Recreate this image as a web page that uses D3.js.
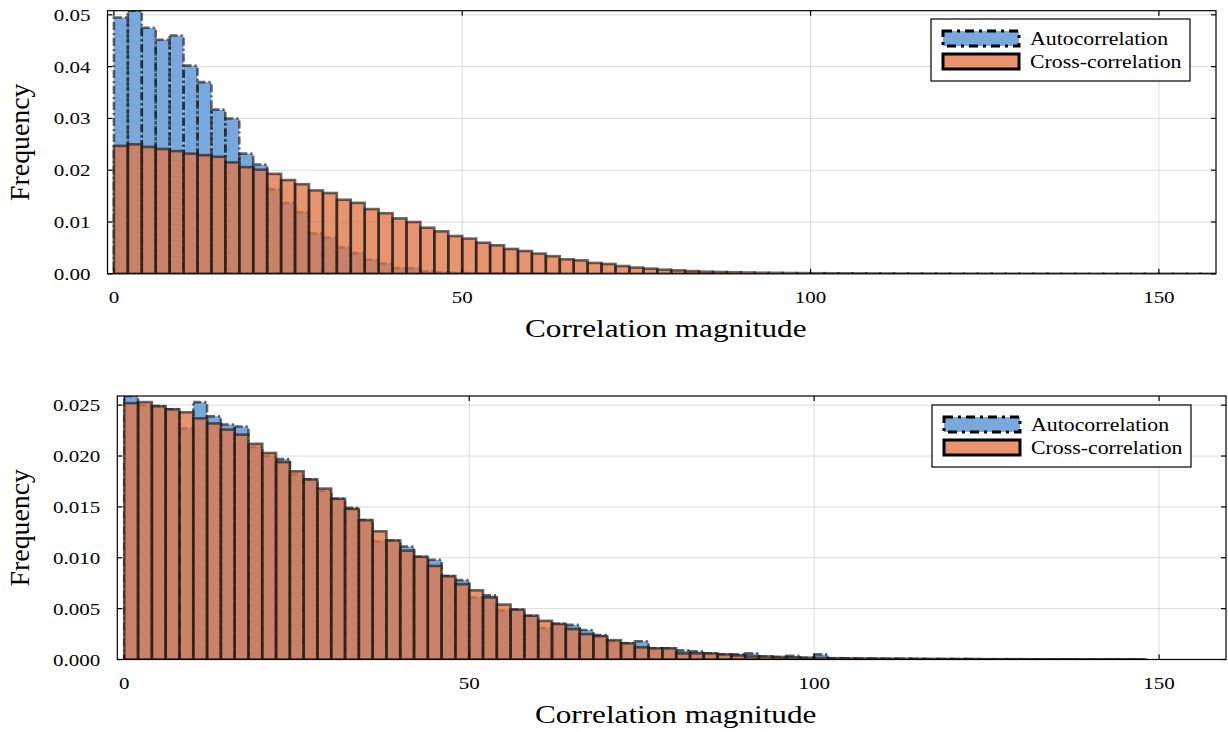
<!DOCTYPE html>
<html>
<head>
<meta charset="utf-8">
<script src="https://cdn.jsdelivr.net/npm/d3@7"></script>
<style>
  body { margin: 0; background: #fff; }
  svg { display: block; }
  text { font-family: "Liberation Serif", "DejaVu Serif", serif; fill: #000; }
</style>
</head>
<body>
<svg id="chart" width="1228" height="732"></svg>
<script>
// histogram bins are 2 wide, starting at 0
var binWidth = 2;

// top panel
var autoTop = [0.0495, 0.0508, 0.0475, 0.0452, 0.0460, 0.0402, 0.0370, 0.0317, 0.0300, 0.0232,
  0.0211, 0.0163, 0.0137, 0.0119, 0.0078, 0.0070, 0.0051, 0.0040, 0.0027, 0.0020,
  0.0011, 0.0011, 0.0005, 0.0003, 0.0002, 0.00015, 0.0001, 0.00008, 0.00005, 0.00004,
  0.00003, 0.00002];
var crossTop = [0.0247, 0.0250, 0.0245, 0.0241, 0.0237, 0.0232, 0.0229, 0.0226, 0.0215, 0.0206,
  0.0201, 0.0193, 0.0181, 0.0173, 0.0161, 0.0156, 0.0143, 0.0137, 0.0125, 0.0117,
  0.0107, 0.0100, 0.0089, 0.0082, 0.0073, 0.0068, 0.0060, 0.0055, 0.0048, 0.0044,
  0.0039, 0.0034, 0.0028, 0.0026, 0.0021, 0.0019, 0.0015, 0.0012, 0.0010, 0.0008,
  0.00066, 0.00052, 0.0004, 0.00035, 0.0003, 0.00025, 0.0002, 0.00018, 0.00015, 0.00013,
  0.00011, 0.0001, 0.00009, 0.00008, 0.00007, 0.00006, 0.00005, 0.00005, 0.00004, 0.00004,
  0.00003, 0.00003, 0.00003, 0.00002, 0.00002, 0.00002, 0.00002, 0.00002, 0.00001, 0.00001,
  0.00001, 0.00001, 0.00001, 0.00001, 0.00001, 0.00001, 0.00001, 0.00001, 0.00001];

// bottom panel
var autoBottom = [0.0259, 0.0250, 0.0249, 0.0246, 0.0227, 0.0253, 0.0239, 0.0231, 0.0229, 0.0209,
  0.0200, 0.0197, 0.0182, 0.0177, 0.0166, 0.0158, 0.0149, 0.0137, 0.0116, 0.0117,
  0.0111, 0.0101, 0.0098, 0.0082, 0.0078, 0.0061, 0.0063, 0.0048, 0.0049, 0.0043,
  0.0031, 0.0035, 0.0034, 0.0029, 0.0024, 0.0018, 0.0016, 0.0018, 0.0011, 0.0011,
  0.0009, 0.0008, 0.0006, 0.0005, 0.0005, 0.0006, 0.0003, 0.00025, 0.00036, 0.00017,
  0.0005, 0.00013, 0.00011, 0.0001, 0.00009, 0.00008, 0.00007, 0.00006, 0.00005, 0.00005,
  0.00004, 0.00004, 0.00003, 0.00003, 0.00003, 0.00002, 0.00002, 0.00002, 0.00002, 0.00001,
  0.00001, 0.00001, 0.00001, 0.00001];
var crossBottom = [0.0252, 0.0253, 0.0249, 0.0246, 0.0243, 0.0237, 0.0232, 0.0226, 0.0221, 0.0212,
  0.0203, 0.0194, 0.0185, 0.0177, 0.0168, 0.0158, 0.0148, 0.0137, 0.0126, 0.0117,
  0.0107, 0.0101, 0.0092, 0.0082, 0.0074, 0.0068, 0.0061, 0.0054, 0.0049, 0.0043,
  0.0038, 0.0035, 0.0030, 0.0025, 0.0023, 0.0019, 0.0016, 0.0012, 0.0011, 0.0011,
  0.0006, 0.0006, 0.0006, 0.0005, 0.0004, 0.0003, 0.0003, 0.00025, 0.0002, 0.00017,
  0.00015, 0.00013, 0.00011, 0.0001, 0.00009, 0.00008, 0.00007, 0.00006, 0.00005, 0.00005,
  0.00004, 0.00004, 0.00003, 0.00003, 0.00003, 0.00002, 0.00002, 0.00002, 0.00002, 0.00001,
  0.00001, 0.00001, 0.00001, 0.00001];

var xTicks = [0, 50, 100, 150];
var yTicksTop = [0, 0.01, 0.02, 0.03, 0.04, 0.05];
var yTicksBottom = [0, 0.005, 0.010, 0.015, 0.020, 0.025];
var seriesNames = ["Autocorrelation", "Cross-correlation"];
var xTitle = "Correlation magnitude";
var yTitle = "Frequency";

var blue = "#78a8dc";
var orange = "#e17544";
var orangeAlpha = 0.77;

var svg = d3.select("#chart");

// serif text, stretched a little sideways like the original
function label(g, x, y, str, size, sx, anchor, rotate) {
  return g.append("text")
    .attr("transform", "translate(" + x + "," + y + ")" + (rotate ? "rotate(" + rotate + ")" : "") + "scale(" + sx + ",1)")
    .attr("text-anchor", anchor || "start")
    .style("font-size", size + "px")
    .text(str);
}

function panel(opt, idx) {
  var g = svg.append("g");
  var x = d3.scaleLinear().domain(opt.xDomain).range([opt.left, opt.right]);
  var y = d3.scaleLinear().domain([0, opt.yMax]).range([opt.bottom, opt.top]);

  // grid (under the bars)
  var grid = g.append("g").attr("stroke", "#000").attr("stroke-opacity", 0.14).attr("stroke-width", 1);
  grid.selectAll("line.gx").data(xTicks).enter().append("line")
    .attr("x1", function(d) { return x(d); }).attr("x2", function(d) { return x(d); })
    .attr("y1", opt.top).attr("y2", opt.bottom);
  grid.selectAll("line.gy").data(opt.yTicks).enter().append("line")
    .attr("y1", function(d) { return y(d); }).attr("y2", function(d) { return y(d); })
    .attr("x1", opt.left).attr("x2", opt.right);

  var clipId = "clip" + idx;
  g.append("clipPath").attr("id", clipId).append("rect")
    .attr("x", opt.left).attr("y", opt.top)
    .attr("width", opt.right - opt.left).attr("height", opt.bottom - opt.top);
  var bars = g.append("g").attr("clip-path", "url(#" + clipId + ")");

  function series(data, fill, fillOpacity, dash) {
    var s = bars.append("g");
    s.selectAll("rect").data(data).enter().append("rect")
      .attr("x", function(d, i) { return x(i * binWidth); })
      .attr("width", function(d, i) { return x((i + 1) * binWidth) - x(i * binWidth); })
      .attr("y", function(d) { return y(d); })
      .attr("height", function(d) { return y(0) - y(d); })
      .attr("fill", fill)
      .attr("fill-opacity", fillOpacity)
      .attr("stroke", "none");
    s.selectAll("path").data(data).enter().append("rect")
      .attr("x", function(d, i) { return x(i * binWidth); })
      .attr("width", function(d, i) { return x((i + 1) * binWidth) - x(i * binWidth); })
      .attr("y", function(d) { return y(d); })
      .attr("height", function(d) { return y(0) - y(d); })
      .attr("fill", "none")
      .attr("stroke", "#1a1a1a")
      .attr("stroke-opacity", 0.65)
      .attr("stroke-width", 2.6)
      .attr("stroke-dasharray", dash || null);
  }
  series(opt.auto, blue, 1, "8,3,2,3");
  series(opt.cross, orange, orangeAlpha, null);

  // frame + inward ticks on all sides
  g.append("rect")
    .attr("x", opt.left).attr("y", opt.top)
    .attr("width", opt.right - opt.left).attr("height", opt.bottom - opt.top)
    .attr("fill", "none").attr("stroke", "#000").attr("stroke-width", 1.2);
  var tk = g.append("g").attr("stroke", "#000").attr("stroke-width", 1.2);
  xTicks.forEach(function(d) {
    tk.append("line").attr("x1", x(d)).attr("x2", x(d)).attr("y1", opt.bottom).attr("y2", opt.bottom - 5);
    tk.append("line").attr("x1", x(d)).attr("x2", x(d)).attr("y1", opt.top).attr("y2", opt.top + 5);
  });
  opt.yTicks.forEach(function(d) {
    tk.append("line").attr("x1", opt.left).attr("x2", opt.left + 5).attr("y1", y(d)).attr("y2", y(d));
    tk.append("line").attr("x1", opt.right).attr("x2", opt.right - 5).attr("y1", y(d)).attr("y2", y(d));
  });

  // tick labels
  var fmt = d3.format(opt.yFmt);
  xTicks.forEach(function(d) {
    label(g, x(d), opt.bottom + 29, d, 17.5, 1.2, "middle");
  });
  opt.yTicks.forEach(function(d) {
    label(g, opt.left - 17, y(d) + 6, fmt(d), 17.5, 1.2, "end");
  });

  // axis titles
  label(g, (opt.left + opt.right) / 2 + 4, opt.bottom + 63, xTitle, 26, 1.2, "middle");
  label(g, 29, (opt.top + opt.bottom) / 2, yTitle, 27, 1.03, "middle", -90);

  // legend
  var lg = g.append("g").attr("transform", "translate(" + opt.legend[0] + "," + opt.legend[1] + ")");
  lg.append("rect").attr("width", 259).attr("height", 62)
    .attr("fill", "#fff").attr("stroke", "#000").attr("stroke-width", 1.2);
  var rows = [
    { name: seriesNames[0], fill: blue, op: 1, dash: "9,5,3,5" },
    { name: seriesNames[1], fill: orange, op: orangeAlpha, dash: null }
  ];
  rows.forEach(function(r, i) {
    var cy = 19.5 + i * 23;
    lg.append("rect").attr("x", 12).attr("y", cy - 7.5).attr("width", 76).attr("height", 15)
      .attr("fill", r.fill).attr("fill-opacity", r.op)
      .attr("stroke", "#000").attr("stroke-width", 3)
      .attr("stroke-dasharray", r.dash);
    label(lg, 99, cy + 6, r.name, 19.5, 1.12, "start");
  });
}

panel({
  left: 107.5, right: 1216, top: 10.7, bottom: 273.8,
  xDomain: [-0.92, 158.2], yMax: 0.0508,
  yTicks: yTicksTop, yFmt: ".2f",
  auto: autoTop, cross: crossTop,
  legend: [931, 19]
}, 0);

panel({
  left: 117.3, right: 1226, top: 396, bottom: 659.5,
  xDomain: [-1.01, 159.7], yMax: 0.0259,
  yTicks: yTicksBottom, yFmt: ".3f",
  auto: autoBottom, cross: crossBottom,
  legend: [932, 405]
}, 1);
</script>
</body>
</html>
